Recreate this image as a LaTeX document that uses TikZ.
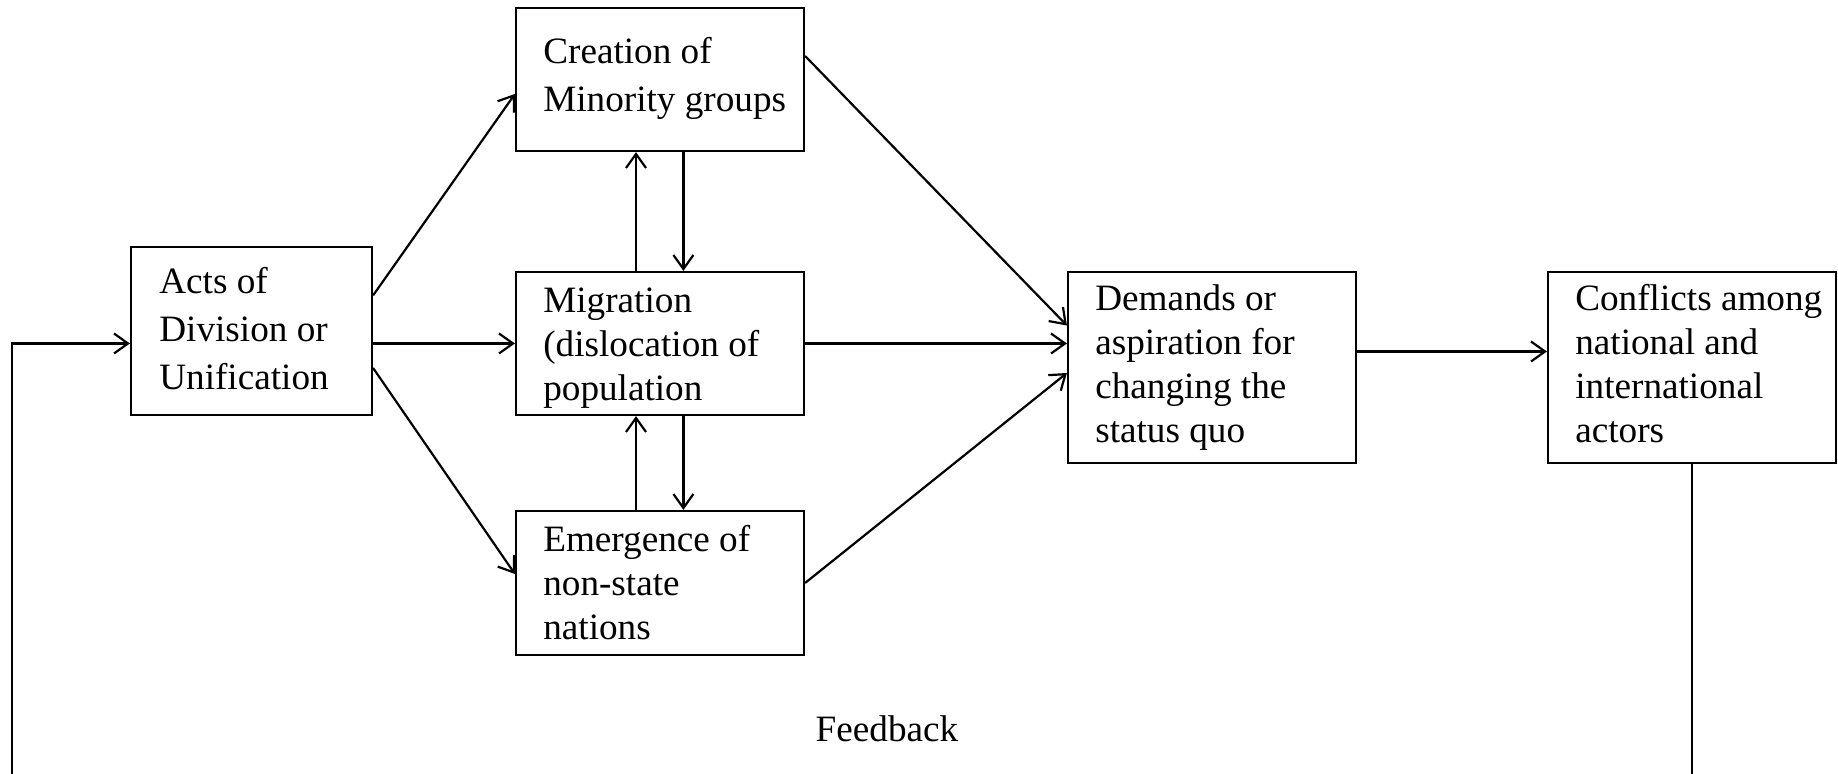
\documentclass[tikz,border=0pt]{standalone}
\usepackage{fontspec}
\setmainfont{Liberation Serif}
\usetikzlibrary{arrows.meta}
\begin{document}
\begin{tikzpicture}[x=0.5pt,y=-0.5pt,
  box/.style={draw,line width=1.1pt,inner sep=0pt},
  txt/.style={anchor=west,align=left,inner sep=0pt,font=\fontsize{18.6}{24}\selectfont},
  tight/.style={font=\fontsize{18.6}{22}\selectfont},
  lbl/.style={font=\fontsize{18.6}{24}\selectfont},
  arr/.style={line width=1.1pt,-{Straight Barb[length=7pt,width=10pt,line width=1.1pt]}},
  link/.style={line width=1.1pt}]
\useasboundingbox (0,0) rectangle (1838,774);
\node[box,minimum width=120.5pt,minimum height=84pt] (acts) at (251.5,331) {};
\node[box,minimum width=144pt,minimum height=71.5pt] (creation) at (660,79.5) {};
\node[box,minimum width=144pt,minimum height=71.5pt] (migration) at (660,343.5) {};
\node[box,minimum width=144pt,minimum height=72pt] (emergence) at (660,583) {};
\node[box,minimum width=144pt,minimum height=95.5pt] (demands) at (1212,367.5) {};
\node[box,minimum width=144pt,minimum height=95.5pt] (conflicts) at (1692,367.5) {};

\node[txt] (acts-t) at ([xshift=14.5pt,yshift=1.2pt]acts.west) {Acts of\\Division or\\Unification};
\node[txt] (creation-t) at ([xshift=14pt,yshift=0.5pt]creation.west) {Creation of\\Minority groups};
\node[txt,tight] (migration-t) at ([xshift=14pt,yshift=-2.3pt]migration.west) {Migration\\(dislocation of\\population};
\node[txt,tight] (emergence-t) at ([xshift=14pt]emergence.west) {Emergence of\\non-state\\nations};
\node[txt,tight] (demands-t) at ([xshift=14pt]demands.west) {Demands or\\aspiration for\\changing the\\status quo};
\node[txt,tight] (conflicts-t) at ([xshift=14pt,yshift=1.75pt]conflicts.west) {Conflicts among\\national and\\international\\actors};
\node[lbl] (feedback) at (887,729) {Feedback};
\coordinate (fbl) at (12,774);
\coordinate (fbr) at (1692,774);

\draw[arr] ([yshift=17.8pt]acts.east) -- ([yshift=-7.25pt]creation.west);
\draw[arr] (acts.east |- migration.west) -- (migration.west);
\draw[arr] ([yshift=-18.5pt]acts.east) -- ([yshift=4.5pt]emergence.west);

\draw[arr] ([xshift=11.7pt]creation.south) -- ([xshift=11.7pt]migration.north);
\draw[arr] ([xshift=-12pt]migration.north) -- ([xshift=-12pt]creation.south);
\draw[arr] ([xshift=11.7pt]migration.south) -- ([xshift=11.7pt]emergence.north);
\draw[arr] ([xshift=-12pt]emergence.north) -- ([xshift=-12pt]migration.south);

\draw[arr] ([yshift=11.75pt]creation.east) -- ([yshift=21pt]demands.west);
\draw[arr] (migration.east) -- (migration.east -| demands.west);
\draw[arr] (emergence.east) -- ([yshift=-2.75pt]demands.west);

\draw[arr] ([yshift=8pt]demands.east) -- ([yshift=8pt]conflicts.west);

\draw[link] (conflicts.south) -- (fbr);
\draw[arr] (fbl) |- (acts.west |- migration.west);
\end{tikzpicture}
\end{document}
